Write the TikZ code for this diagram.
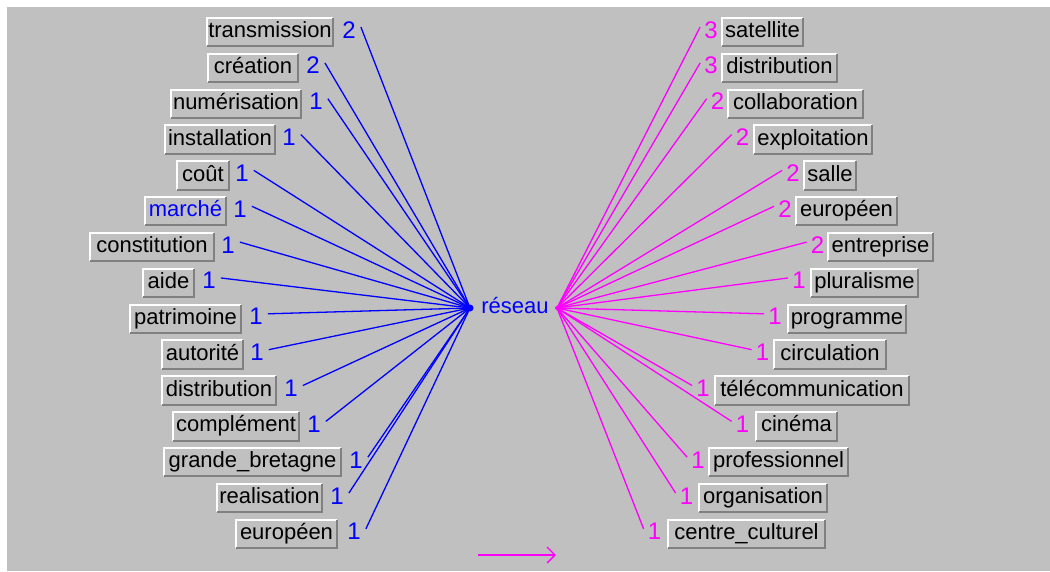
\documentclass[tikz,border=0pt]{standalone}
\usepackage{fontspec}
\setmainfont{Liberation Sans}
\usetikzlibrary{arrows.meta}
\definecolor{bgc}{HTML}{C0C0C0}
\definecolor{shd}{HTML}{808080}
\definecolor{bl}{HTML}{0000FF}
\definecolor{mg}{HTML}{FF00FF}
\begin{document}
\begin{tikzpicture}[x=1pt,y=-1pt,
  btn/.style={fill=bgc, minimum height=30pt, inner sep=0pt, text height=15.8pt, text depth=4.6pt, font=\fontsize{22}{26}\selectfont},
  numtxt/.style={inner sep=0pt, text height=17pt, text depth=5pt, font=\fontsize{24}{28}\selectfont},
  lbltxt/.style={inner sep=0pt, text height=15.8pt, text depth=4.6pt, font=\fontsize{22}{26}\selectfont},
  hilite/.style={white, line width=2pt},
  shadow/.style={shd, line width=2pt},
  bline/.style={bl, line width=1.3pt},
  mline/.style={mg, line width=1.3pt}]
\useasboundingbox (0,0) rectangle (1050,571);
\fill[white] (0,0) rectangle (1050,571);
\fill[bgc] (7,7) rectangle (1050,571);
\coordinate (hubL) at (470,308);
\coordinate (hubR) at (557,308);
% left side
\foreach \i/\txt/\col/\xl/\xr/\nm/\nx in {
1/transmission/black/206/334/2/349,
2/création/black/207/299/2/313,
3/numérisation/black/170/302/1/316,
4/installation/black/164/276/1/289,
5/coût/black/176/230/1/242,
6/marché/bl/144/227/1/240,
7/constitution/black/89/215/1/228,
8/aide/black/142/195/1/209,
9/patrimoine/black/129/242/1/256,
10/autorité/black/161/244/1/257,
11/distribution/black/161/277/1/291,
12/complément/black/172/300/1/314,
13/grande\_bretagne/black/163/342/1/356,
14/realisation/black/216/323/1/337,
15/européen/black/235/338/1/354}{
  \pgfmathsetmacro\yy{32+35.85*(\i-1)}
  \pgfmathsetmacro\ww{\xr-\xl}
  \pgfmathsetmacro\xc{(\xl+\xr)/2}
  \node[btn, minimum width=\ww pt, text=\col] (L\i) at (\xc,\yy) {\txt};
  \draw[hilite] ([xshift=1pt,yshift=1pt]L\i.south west) |- ([xshift=-1pt,yshift=-1pt]L\i.north east);
  \draw[shadow] ([xshift=1pt,yshift=1pt]L\i.south west) -| ([xshift=-1pt,yshift=-1pt]L\i.north east);
  \node[numtxt, text=bl] (LN\i) at (\nx,\yy) {\nm};
  \draw[bline] ([xshift=5pt,yshift=5pt]LN\i.east) -- (hubL);
}
% right side
\foreach \i/\txt/\nm/\nx/\xl/\xr in {
1/satellite/3/711/721/804,
2/distribution/3/711/721/838,
3/collaboration/2/717.5/727/864,
4/exploitation/2/742.5/753/873,
5/salle/2/793/803/857,
6/européen/2/785/795/898,
7/entreprise/2/817.5/827/934,
8/pluralisme/1/799/810/919,
9/programme/1/775/787/907,
10/circulation/1/762.5/773/887,
11/télécommunication/1/703/714/910,
12/cinéma/1/742.5/755/838,
13/professionnel/1/698/708/849,
14/organisation/1/686.5/698/828,
15/centre\_culturel/1/654.5/667/826}{
  \pgfmathsetmacro\yy{32+35.85*(\i-1)}
  \pgfmathsetmacro\ww{\xr-\xl}
  \pgfmathsetmacro\xc{(\xl+\xr)/2}
  \node[btn, minimum width=\ww pt] (R\i) at (\xc,\yy) {\txt};
  \draw[hilite] ([xshift=1pt,yshift=1pt]R\i.south west) |- ([xshift=-1pt,yshift=-1pt]R\i.north east);
  \draw[shadow] ([xshift=1pt,yshift=1pt]R\i.south west) -| ([xshift=-1pt,yshift=-1pt]R\i.north east);
  \node[numtxt, text=mg] (RN\i) at (\nx,\yy) {\nm};
  \draw[mline] ([xshift=-4pt,yshift=5pt]RN\i.west) -- (hubR);
}
\fill[bl] (hubL) circle (3.5pt);
\fill[mg] (hubR) circle (2pt);
\node[lbltxt, text=bl] (res) at (515,308) {réseau};
\coordinate (arA) at (478,555);
\coordinate (arB) at (556,555);
\draw[mline, -{Straight Barb[length=8pt,width=16pt]}] (arA) -- (arB);
\end{tikzpicture}
\end{document}
